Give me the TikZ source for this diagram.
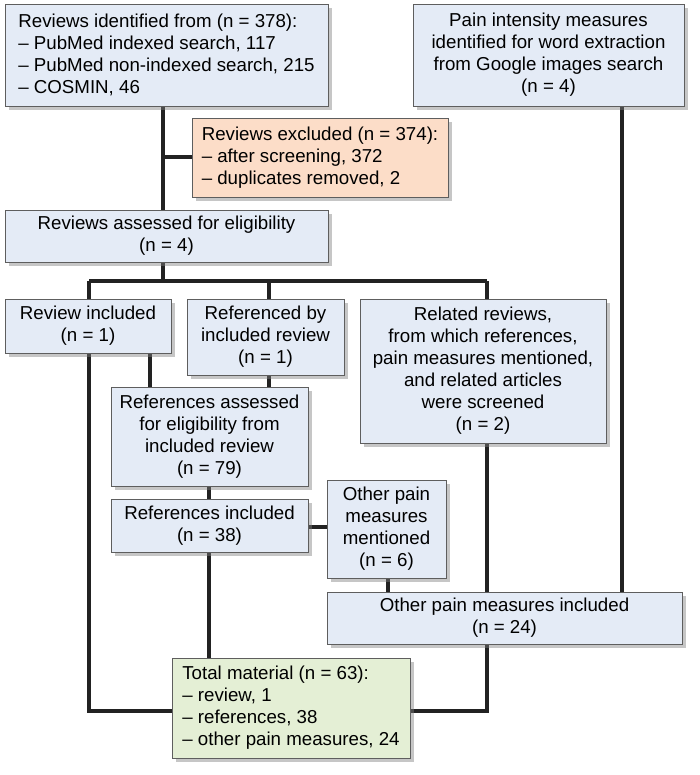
\documentclass[tikz,border=0pt]{standalone}
\usepackage{fontspec}
\setmainfont{Liberation Sans}
\usetikzlibrary{shadows,backgrounds}
\definecolor{boxblue}{HTML}{E4EBF6}
\definecolor{boxorange}{HTML}{FCDDC8}
\definecolor{boxgreen}{HTML}{E4EFD5}
\definecolor{boxborder}{HTML}{5E5E5E}
\definecolor{linecol}{HTML}{222222}
\begin{document}
\begin{tikzpicture}[x=1pt,y=-1pt,
  box/.style={draw=boxborder, line width=0.9pt, fill=boxblue, inner sep=0pt,
    font=\fontsize{18.7}{22}\selectfont, align=center,
    drop shadow={shadow xshift=3.5pt, shadow yshift=-4pt, fill=black!50, opacity=0.45}},
  conn/.style={draw=linecol, line width=3.6pt, line join=miter}]
\useasboundingbox (0,0) rectangle (700,775);

\node[box, minimum width=323pt, minimum height=102pt, align=left] (ident) at (166.5,55)
  {Reviews identified from (n = 378):\\– PubMed indexed search, 117\\– PubMed non-indexed search, 215\\– COSMIN, 46};
\node[box, minimum width=271pt, minimum height=102pt] (pain) at (548.5,55)
  {Pain intensity measures\\identified for word extraction\\from Google images search\\(n = 4)};
\node[box, fill=boxorange, minimum width=256pt, minimum height=79pt, align=left] (excl) at (320,157.5)
  {Reviews excluded (n = 374):\\– after screening, 372\\– duplicates removed, 2};
\node[box, minimum width=323pt, minimum height=52pt] (assess) at (166.5,236)
  {Reviews assessed for eligibility\\(n = 4)};
\node[box, minimum width=166pt, minimum height=54pt] (revinc) at (88,326)
  {Review included\\(n = 1)};
\node[box, minimum width=157pt, minimum height=76pt] (refby) at (265.5,337)
  {Referenced by\\included review\\(n = 1)};
\node[box, minimum width=246pt, minimum height=144pt] (related) at (483,371)
  {Related reviews,\\from which references,\\pain measures mentioned,\\and related articles\\were screened\\(n = 2)};
\node[box, minimum width=197pt, minimum height=99pt] (refass) at (209.5,436.5)
  {References assessed\\for eligibility from\\included review\\(n = 79)};
\node[box, minimum width=197pt, minimum height=53pt] (refinc) at (209.5,525.5)
  {References included\\(n = 38)};
\node[box, minimum width=119pt, minimum height=98pt] (othment) at (386.5,529)
  {Other pain\\measures\\mentioned\\(n = 6)};
\node[box, minimum width=355pt, minimum height=52pt] (othinc) at (504.5,618)
  {Other pain measures included\\(n = 24)};
\node[box, fill=boxgreen, minimum width=238pt, minimum height=100pt, align=left] (total) at (291,708)
  {Total material (n = 63):\\– review, 1\\– references, 38\\– other pain measures, 24};

\coordinate (j1) at (163,157);
\coordinate (j2) at (163,281);
\coordinate (hL) at (89,281);
\coordinate (hM) at (269,281);
\coordinate (hR) at (487,281);
\coordinate (xp) at (622,0);
\coordinate (xr) at (150,0);
\coordinate (xc) at (209,0);
\coordinate (xo) at (388,0);
\coordinate (ym) at (0,527);
\coordinate (bl) at (89,711);
\coordinate (br) at (487,711);

\begin{scope}[on background layer]
\draw[conn] (ident.south -| j1) -- (assess.north -| j1);
\draw[conn] (j1) -- (excl.west |- j1);
\draw[conn] (assess.south -| j2) -- (j2);
\draw[conn] (hL) -- (hR);
\draw[conn] (hL) -- (revinc.north -| hL);
\draw[conn] (hM) -- (refby.north -| hM);
\draw[conn] (hR) -- (related.north -| hR);
\draw[conn] (pain.south -| xp) -- (othinc.north -| xp);
\draw[conn] (revinc.south -| hL) -- (bl) -- (total.west |- bl);
\draw[conn] (revinc.south -| xr) -- (refass.north -| xr);
\draw[conn] (refby.south -| hM) -- (refass.north -| hM);
\draw[conn] (refass.south -| xc) -- (refinc.north -| xc);
\draw[conn] (refinc.east |- ym) -- (othment.west |- ym);
\draw[conn] (refinc.south -| xc) -- (total.north -| xc);
\draw[conn] (othment.south -| xo) -- (othinc.north -| xo);
\draw[conn] (related.south -| hR) -- (othinc.north -| hR);
\draw[conn] (othinc.south -| br) -- (br) -- (total.east |- br);
\end{scope}
\end{tikzpicture}
\end{document}
